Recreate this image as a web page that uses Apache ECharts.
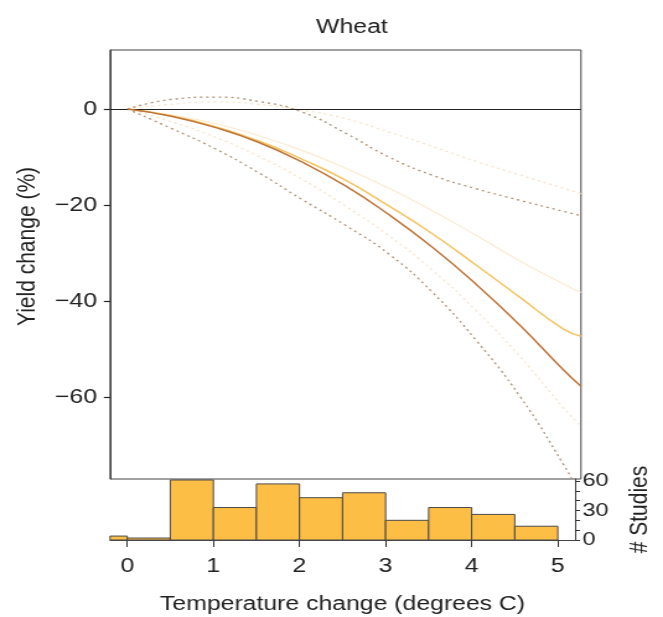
<!DOCTYPE html>
<html><head><meta charset="utf-8">
<script src="https://cdn.jsdelivr.net/npm/echarts@6/dist/echarts.min.js"></script>
<style>
html,body{margin:0;padding:0;background:#fff;overflow:hidden}
#wrap{width:663px;height:617px;overflow:hidden}
/* the reference picture is stretched horizontally by ~1.24; reproduce by scaling the drawing */
#c{width:535px;height:617px;transform:scaleX(1.2393);transform-origin:0 0}
</style>
</head><body><div id="wrap"><div id="c"></div></div>
<script>
// ---- data ----
const xTicks = [0, 1, 2, 3, 4, 5];
const yTicks = [0, -20, -40, -60];
const studyTicks = [0, 10, 20, 30, 40, 50, 60];
const studyLabels = [0, 30, 60];
const temps = [0, 0.5, 1, 1.5, 2, 2.5, 3, 3.5, 4, 4.5, 5, 5.2];
const meanA  = [0, -1.5, -3.8, -6.9, -11.0, -16.0, -22.0, -28.8, -36.5, -45.0, -54.3, -57.7];
const meanB  = [0, -1.4, -3.6, -6.6, -10.4, -14.8, -20.2, -26.0, -32.5, -39.2, -45.8, -47.3];
const upperA = [0, 2.0, 2.5, 1.6, -0.6, -5.0, -10.0, -13.8, -16.6, -19.0, -21.3, -22.2];
const lowerA = [0, -4.0, -8.2, -13.2, -18.8, -24.2, -30.2, -38.2, -48.2, -59.8, -74.0, -80.5];
const upperB = [0, 1.0, 1.5, 1.0, -0.2, -2.0, -4.8, -7.8, -10.9, -13.7, -16.5, -17.6];
const lowerB = [0, -2.6, -5.8, -9.8, -14.6, -20.2, -26.4, -33.6, -42.0, -51.5, -62.2, -66.0];
const midB   = [0, -1.2, -3.0, -5.5, -8.6, -12.3, -16.5, -21.2, -26.3, -31.6, -36.4, -38.2];
const binStart = [-0.5, 0, 0.5, 1, 1.5, 2, 2.5, 3, 3.5, 4, 4.5];
const binEnd   = [0, 0.5, 1, 1.5, 2, 2.5, 3, 3.5, 4, 4.5, 5];
const binCount = [4, 2, 61, 33, 57, 43, 48, 20, 33, 26, 14];

const zip = ys => temps.map((t, i) => [t, ys[i]]);
const FONT = 'Liberation Sans, Arial, sans-serif';
const TXT = '#222';
const AX = '#333';

function lineS(name, ys, color, width, type, z) {
  return {
    name, type: 'line', xAxisIndex: 0, yAxisIndex: 0, data: zip(ys), smooth: true,
    showSymbol: false, symbol: 'none', clip: true, z: z,
    lineStyle: { color, width, type }, silent: true
  };
}

const chart = echarts.init(document.getElementById('c'), null, { renderer: 'canvas' });
const series = [
  lineS('upperB', upperB, '#F8E2C2', 1.2, [2, 3], 2),
  lineS('lowerB', lowerB, '#F8E2C2', 1.2, [2, 3], 2),
  lineS('midB', midB, '#FCEBD0', 1.2, 'solid', 2),
  lineS('upperA', upperA, '#B39373', 1.3, [2, 3], 3),
  lineS('lowerA', lowerA, '#B39373', 1.3, [2, 3], 3),
  lineS('meanB', meanB, '#F5C462', 1.5, 'solid', 4),
  Object.assign(lineS('meanA', meanA, '#BF753A', 1.5, 'solid', 5), {
    markLine: {
      silent: true, symbol: 'none', label: { show: false },
      lineStyle: { color: '#222', width: 1.2, type: 'solid' },
      data: [{ yAxis: 0 }]
    }
  }),
  {
    name: 'studies', type: 'custom', xAxisIndex: 1, yAxisIndex: 1,
    data: binStart.map((s, i) => [s, binEnd[i], binCount[i]]),
    encode: { x: [0, 1], y: 2 },
    renderItem: function (params, api) {
      const p0 = api.coord([api.value(0), api.value(2)]);
      const p1 = api.coord([api.value(1), 0]);
      const shape = echarts.graphic.clipRectByRect(
        { x: p0[0], y: p0[1], width: p1[0] - p0[0], height: p1[1] - p0[1] },
        { x: params.coordSys.x, y: params.coordSys.y, width: params.coordSys.width, height: params.coordSys.height }
      );
      return shape && { type: 'rect', shape: shape, style: { fill: '#FDBE45', stroke: '#4a4a4a', lineWidth: 1 } };
    }
  }
];

chart.setOption({
  animation: false,
  backgroundColor: '#fff',
  textStyle: { fontFamily: FONT },
  title: {
    text: 'Wheat', left: 279, top: 12, textAlign: 'center',
    textStyle: { fontFamily: FONT, fontSize: 20, fontWeight: 'normal', color: TXT }
  },
  grid: [
    { left: 88.8, top: 50, width: 380, height: 429, show: true, borderColor: '#444', borderWidth: 1, backgroundColor: 'transparent' },
    { left: 88.8, top: 479, width: 380, height: 61 }
  ],
  xAxis: [
    { type: 'value', gridIndex: 0, min: -0.2, max: 5.2, axisLine: { show: false, onZero: false }, axisTick: { show: false },
      axisLabel: { show: false }, splitLine: { show: false } },
    { type: 'value', gridIndex: 1, min: -0.2, max: 5.2, position: 'bottom',
      axisLine: { show: true, onZero: false, lineStyle: { color: '#444', width: 1 } },
      axisTick: { show: true, customValues: xTicks, length: 7, lineStyle: { color: AX, width: 1 } },
      axisLabel: { customValues: xTicks, fontSize: 20, color: TXT, margin: 16, fontFamily: FONT },
      splitLine: { show: false },
      name: 'Temperature change (degrees C)', nameLocation: 'middle', nameGap: 54,
      nameTextStyle: { fontSize: 20, color: TXT, fontFamily: FONT } }
  ],
  yAxis: [
    { type: 'value', gridIndex: 0, min: -77, max: 12.3, position: 'left',
      axisLine: { show: true, onZero: false, lineStyle: { color: '#444', width: 1 } },
      axisTick: { show: true, inside: false, customValues: yTicks, length: 5, lineStyle: { color: '#222', width: 1.2 } },
      axisLabel: { customValues: yTicks, fontSize: 20, color: TXT, margin: 10.5, fontFamily: FONT,
        formatter: v => String(v).replace('-', '\u2212') },
      splitLine: { show: false },
      name: 'Yield change (%)', nameLocation: 'middle', nameGap: 56, nameRotate: 90,
      nameTextStyle: { fontSize: 21, color: TXT, fontFamily: FONT, padding: [0, 0, 0, 36] } },
    { type: 'value', gridIndex: 1, min: 0, max: 62, position: 'right',
      axisLine: { show: true, onZero: false, lineStyle: { color: '#444', width: 1 } },
      axisTick: { show: true, customValues: studyTicks, length: 4, lineStyle: { color: AX, width: 1 } },
      axisLabel: { customValues: studyLabels, fontSize: 19, color: TXT, margin: 6, fontFamily: FONT },
      splitLine: { show: false },
      name: '# Studies', nameLocation: 'middle', nameGap: 42, nameRotate: 90,
      nameTextStyle: { fontSize: 21, color: TXT, fontFamily: FONT } }
  ],
  series: series
});
</script></body></html>
